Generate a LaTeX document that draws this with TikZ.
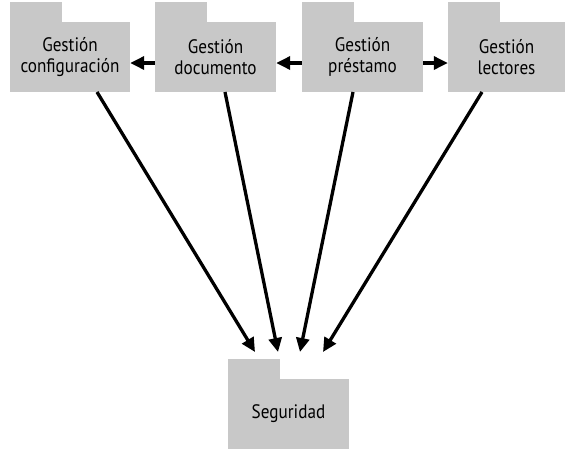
\documentclass[tikz,border=0pt]{standalone}
\usepackage{fontspec}
\setmainfont{PT Sans}[FakeStretch=0.88]
\usetikzlibrary{arrows.meta}
\definecolor{pkg}{HTML}{C8C8C8}
\tikzset{
  pkgbody/.style={fill=pkg, draw=none, minimum width=#1, minimum height=70pt, inner sep=0pt, align=center, font=\fontsize{19.5}{21}\selectfont},
  pkgtab/.style={fill=pkg, draw=none, minimum width=52pt, minimum height=19.5pt, inner sep=0pt, anchor=south west},
  dep/.style={line width=3.3pt, -{Triangle[length=14pt,width=13pt]}, shorten >=0pt}
}
\begin{document}
\begin{tikzpicture}[x=1pt,y=-1pt]
\useasboundingbox (0,0) rectangle (567,451);
% packages
\node[pkgbody=120pt] (conf) at (70,57) {Gestión\\configuración};
\node[pkgtab] (conft) at (conf.north west) {};
\node[pkgbody=121pt] (doc) at (215.5,57) {Gestión\\documento};
\node[pkgtab] (doct) at (doc.north west) {};
\node[pkgbody=121pt] (pres) at (362.5,57) {Gestión\\préstamo};
\node[pkgtab] (prest) at (pres.north west) {};
\node[pkgbody=117pt] (lect) at (506.5,57) {Gestión\\lectores};
\node[pkgtab] (lectt) at (lect.north west) {};
\node[pkgbody=121pt] (seg) at (288.5,414) {Seguridad};
\node[pkgtab] (segt) at (seg.north west) {};
% horizontal dependencies
\draw[dep] (doc.west |- 0,63) -- (conf.east |- 0,63);
\draw[dep] (pres.west |- 0,63) -- (doc.east |- 0,63);
\draw[dep] (pres.east |- 0,63) -- (lect.west |- 0,63);
% dependencies to Seguridad
\coordinate (e1) at (255,352);
\coordinate (e2) at (278,352);
\coordinate (e3) at (300,352);
\coordinate (e4) at (323,352);
\draw[dep] (97,92) -- (e1);
\draw[dep] (225,92) -- (e2);
\draw[dep] (353,92) -- (e3);
\draw[dep] (482,92) -- (e4);
\end{tikzpicture}
\end{document}
